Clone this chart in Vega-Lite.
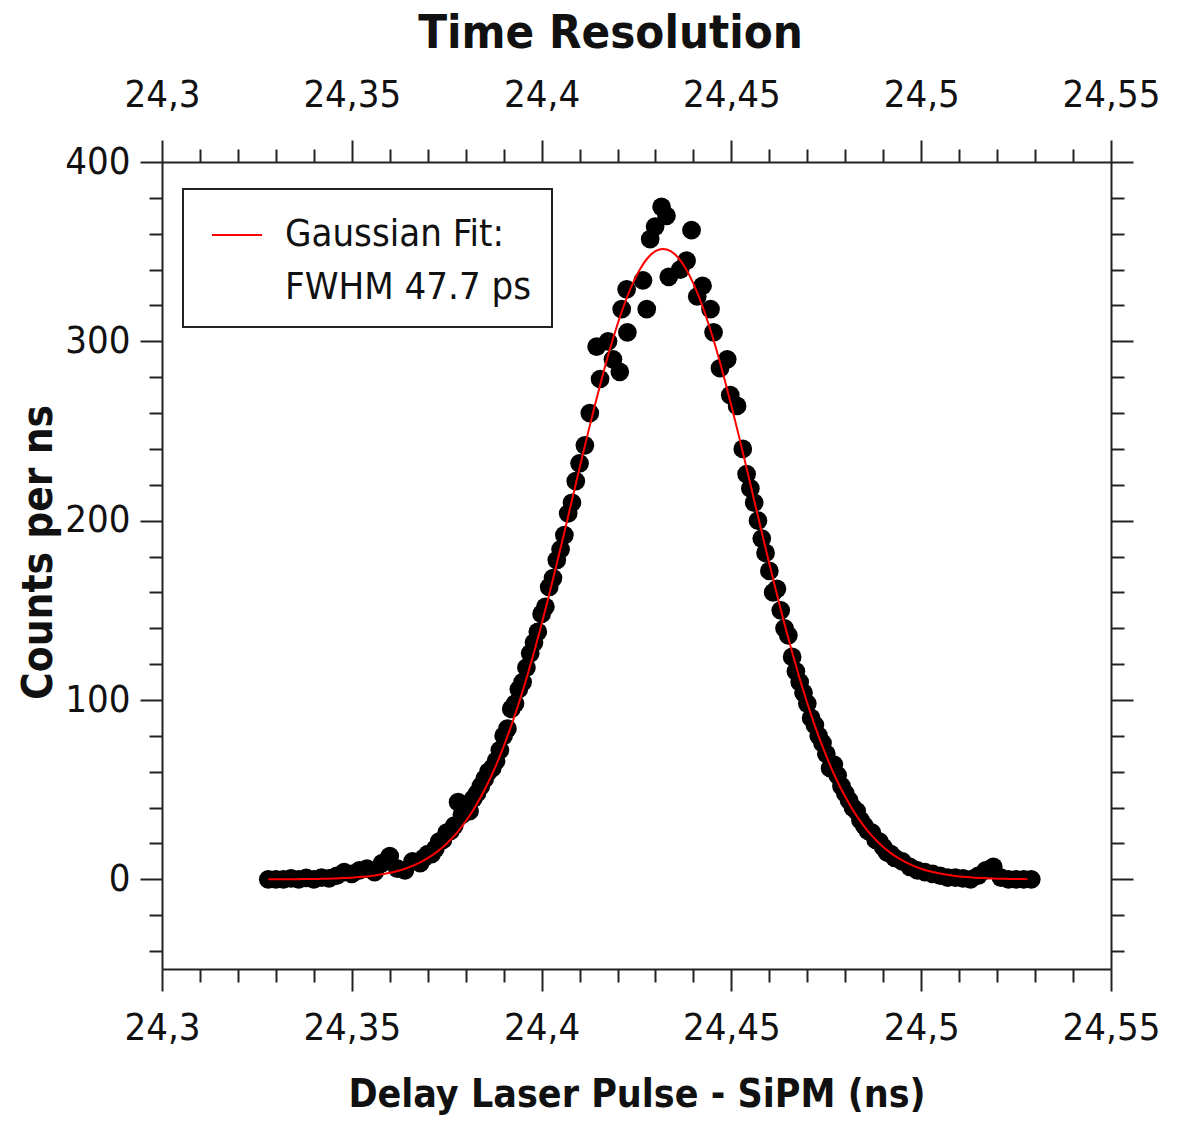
{
  "$schema": "https://vega.github.io/schema/vega-lite/v6.json",
  "width": 949,
  "height": 807,
  "autosize": {"type": "none"},
  "padding": {"left": 162, "top": 162, "right": 70, "bottom": 153},
  "background": "white",
  "title": {
    "text": "Time Resolution",
    "font": "DejaVu Sans Condensed, DejaVu Sans",
    "fontSize": 47,
    "fontWeight": "bold",
    "color": "#111111",
    "anchor": "middle",
    "dx": -26,
    "offset": 18
  },
  "datasets": {
    "counts": [
      {"t": 24.328, "c": 0}, {"t": 24.330, "c": 0}, {"t": 24.332, "c": 0}, {"t": 24.334, "c": 0.5},
      {"t": 24.336, "c": 0}, {"t": 24.338, "c": 0.8}, {"t": 24.340, "c": 0}, {"t": 24.342, "c": 1},
      {"t": 24.344, "c": 0.5}, {"t": 24.346, "c": 2}, {"t": 24.348, "c": 4}, {"t": 24.350, "c": 3},
      {"t": 24.352, "c": 5}, {"t": 24.354, "c": 6}, {"t": 24.356, "c": 4}, {"t": 24.358, "c": 9},
      {"t": 24.360, "c": 13}, {"t": 24.362, "c": 6}, {"t": 24.364, "c": 5}, {"t": 24.366, "c": 10},
      {"t": 24.368, "c": 9}, {"t": 24.369, "c": 12}, {"t": 24.370, "c": 14}, {"t": 24.371, "c": 14},
      {"t": 24.372, "c": 17}, {"t": 24.373, "c": 21}, {"t": 24.374, "c": 22}, {"t": 24.375, "c": 26},
      {"t": 24.376, "c": 27}, {"t": 24.377, "c": 30}, {"t": 24.378, "c": 43}, {"t": 24.379, "c": 36},
      {"t": 24.380, "c": 40}, {"t": 24.381, "c": 38}, {"t": 24.382, "c": 45}, {"t": 24.383, "c": 48},
      {"t": 24.384, "c": 52}, {"t": 24.385, "c": 56}, {"t": 24.386, "c": 60}, {"t": 24.387, "c": 62},
      {"t": 24.388, "c": 66}, {"t": 24.389, "c": 72}, {"t": 24.390, "c": 80}, {"t": 24.391, "c": 84},
      {"t": 24.392, "c": 95}, {"t": 24.393, "c": 98}, {"t": 24.394, "c": 106}, {"t": 24.395, "c": 110},
      {"t": 24.396, "c": 118}, {"t": 24.397, "c": 126}, {"t": 24.398, "c": 132}, {"t": 24.399, "c": 138},
      {"t": 24.400, "c": 148}, {"t": 24.401, "c": 152}, {"t": 24.402, "c": 163}, {"t": 24.403, "c": 168},
      {"t": 24.404, "c": 178}, {"t": 24.405, "c": 184}, {"t": 24.406, "c": 192}, {"t": 24.407, "c": 204},
      {"t": 24.408, "c": 210}, {"t": 24.409, "c": 222},
      {"t": 24.4100, "c": 232}, {"t": 24.4114, "c": 242}, {"t": 24.4127, "c": 260},
      {"t": 24.4145, "c": 297}, {"t": 24.4154, "c": 279}, {"t": 24.4175, "c": 300}, {"t": 24.4188, "c": 290},
      {"t": 24.4206, "c": 283}, {"t": 24.4211, "c": 318}, {"t": 24.4224, "c": 329}, {"t": 24.4226, "c": 305},
      {"t": 24.4267, "c": 334}, {"t": 24.4277, "c": 318}, {"t": 24.4286, "c": 357}, {"t": 24.4299, "c": 364},
      {"t": 24.4316, "c": 375}, {"t": 24.4329, "c": 370}, {"t": 24.4335, "c": 336}, {"t": 24.4365, "c": 340},
      {"t": 24.4382, "c": 345}, {"t": 24.4395, "c": 362}, {"t": 24.4410, "c": 325}, {"t": 24.4424, "c": 331},
      {"t": 24.4445, "c": 318}, {"t": 24.4453, "c": 305}, {"t": 24.4470, "c": 285}, {"t": 24.4489, "c": 290},
      {"t": 24.4497, "c": 270}, {"t": 24.4515, "c": 264}, {"t": 24.4530, "c": 240},
      {"t": 24.454, "c": 226}, {"t": 24.455, "c": 218}, {"t": 24.456, "c": 210},
      {"t": 24.457, "c": 200}, {"t": 24.458, "c": 190}, {"t": 24.459, "c": 182}, {"t": 24.460, "c": 172},
      {"t": 24.461, "c": 160}, {"t": 24.462, "c": 162}, {"t": 24.463, "c": 150}, {"t": 24.464, "c": 140},
      {"t": 24.465, "c": 136}, {"t": 24.466, "c": 124}, {"t": 24.467, "c": 116}, {"t": 24.468, "c": 110},
      {"t": 24.469, "c": 104}, {"t": 24.470, "c": 98}, {"t": 24.471, "c": 90}, {"t": 24.472, "c": 86},
      {"t": 24.473, "c": 80}, {"t": 24.474, "c": 76}, {"t": 24.475, "c": 70}, {"t": 24.476, "c": 62},
      {"t": 24.477, "c": 64}, {"t": 24.478, "c": 58}, {"t": 24.479, "c": 52}, {"t": 24.480, "c": 48},
      {"t": 24.481, "c": 44}, {"t": 24.482, "c": 40}, {"t": 24.483, "c": 38}, {"t": 24.484, "c": 33},
      {"t": 24.485, "c": 30}, {"t": 24.486, "c": 27}, {"t": 24.487, "c": 26}, {"t": 24.488, "c": 22},
      {"t": 24.489, "c": 21}, {"t": 24.490, "c": 18}, {"t": 24.491, "c": 15}, {"t": 24.492, "c": 14},
      {"t": 24.493, "c": 12}, {"t": 24.495, "c": 10},
      {"t": 24.497, "c": 7}, {"t": 24.499, "c": 5}, {"t": 24.501, "c": 4}, {"t": 24.503, "c": 3},
      {"t": 24.505, "c": 2}, {"t": 24.507, "c": 1}, {"t": 24.509, "c": 1}, {"t": 24.511, "c": 0.5},
      {"t": 24.513, "c": 0}, {"t": 24.515, "c": 2}, {"t": 24.517, "c": 5}, {"t": 24.519, "c": 7},
      {"t": 24.521, "c": 1}, {"t": 24.523, "c": 0}, {"t": 24.525, "c": 0}, {"t": 24.527, "c": 0},
      {"t": 24.529, "c": 0}
    ],
    "fit": [
      {"t": 24.328, "c": 0.02}, {"t": 24.330, "c": 0.03}, {"t": 24.332, "c": 0.05}, {"t": 24.334, "c": 0.07},
      {"t": 24.336, "c": 0.10}, {"t": 24.338, "c": 0.14}, {"t": 24.340, "c": 0.20}, {"t": 24.342, "c": 0.27},
      {"t": 24.344, "c": 0.38}, {"t": 24.346, "c": 0.51}, {"t": 24.348, "c": 0.69}, {"t": 24.350, "c": 0.93},
      {"t": 24.352, "c": 1.24}, {"t": 24.354, "c": 1.64}, {"t": 24.356, "c": 2.15}, {"t": 24.358, "c": 2.80},
      {"t": 24.360, "c": 3.62}, {"t": 24.362, "c": 4.65}, {"t": 24.364, "c": 5.93}, {"t": 24.366, "c": 7.51},
      {"t": 24.368, "c": 9.45}, {"t": 24.370, "c": 11.8}, {"t": 24.372, "c": 14.6}, {"t": 24.374, "c": 18.0},
      {"t": 24.376, "c": 22.1}, {"t": 24.378, "c": 26.8}, {"t": 24.380, "c": 32.3}, {"t": 24.382, "c": 38.7},
      {"t": 24.384, "c": 46.0}, {"t": 24.386, "c": 54.3}, {"t": 24.388, "c": 63.6}, {"t": 24.390, "c": 74.1},
      {"t": 24.392, "c": 85.6}, {"t": 24.394, "c": 98.2}, {"t": 24.396, "c": 111.9}, {"t": 24.398, "c": 126.6},
      {"t": 24.400, "c": 142.3}, {"t": 24.402, "c": 158.8}, {"t": 24.404, "c": 176.0}, {"t": 24.406, "c": 193.6},
      {"t": 24.408, "c": 211.4}, {"t": 24.410, "c": 229.3}, {"t": 24.412, "c": 247.0}, {"t": 24.414, "c": 264.1},
      {"t": 24.416, "c": 280.4}, {"t": 24.418, "c": 295.7}, {"t": 24.420, "c": 309.5}, {"t": 24.422, "c": 321.8},
      {"t": 24.424, "c": 332.2}, {"t": 24.426, "c": 340.5}, {"t": 24.428, "c": 346.6}, {"t": 24.430, "c": 350.3},
      {"t": 24.432, "c": 351.5}, {"t": 24.434, "c": 350.3}, {"t": 24.436, "c": 346.6}, {"t": 24.438, "c": 340.5},
      {"t": 24.440, "c": 332.2}, {"t": 24.442, "c": 321.8}, {"t": 24.444, "c": 309.5}, {"t": 24.446, "c": 295.7},
      {"t": 24.448, "c": 280.4}, {"t": 24.450, "c": 264.1}, {"t": 24.452, "c": 247.0}, {"t": 24.454, "c": 229.3},
      {"t": 24.456, "c": 211.4}, {"t": 24.458, "c": 193.6}, {"t": 24.460, "c": 176.0}, {"t": 24.462, "c": 158.8},
      {"t": 24.464, "c": 142.3}, {"t": 24.466, "c": 126.6}, {"t": 24.468, "c": 111.9}, {"t": 24.470, "c": 98.2},
      {"t": 24.472, "c": 85.6}, {"t": 24.474, "c": 74.1}, {"t": 24.476, "c": 63.6}, {"t": 24.478, "c": 54.3},
      {"t": 24.480, "c": 46.0}, {"t": 24.482, "c": 38.7}, {"t": 24.484, "c": 32.3}, {"t": 24.486, "c": 26.8},
      {"t": 24.488, "c": 22.1}, {"t": 24.490, "c": 18.0}, {"t": 24.492, "c": 14.6}, {"t": 24.494, "c": 11.8},
      {"t": 24.496, "c": 9.45}, {"t": 24.498, "c": 7.51}, {"t": 24.500, "c": 5.93}, {"t": 24.502, "c": 4.65},
      {"t": 24.504, "c": 3.62}, {"t": 24.506, "c": 2.80}, {"t": 24.508, "c": 2.15}, {"t": 24.510, "c": 1.64},
      {"t": 24.512, "c": 1.24}, {"t": 24.514, "c": 0.93}, {"t": 24.516, "c": 0.69}, {"t": 24.518, "c": 0.51},
      {"t": 24.520, "c": 0.38}, {"t": 24.522, "c": 0.27}, {"t": 24.524, "c": 0.20}, {"t": 24.526, "c": 0.14},
      {"t": 24.528, "c": 0.10}
    ]
  },
  "layer": [
    {
      "data": {"name": "counts"},
      "mark": {"type": "circle", "size": 350, "color": "#000000", "opacity": 1},
      "encoding": {
        "x": {
          "field": "t", "type": "quantitative",
          "scale": {"domain": [24.3, 24.55], "nice": false, "zero": false},
          "axis": {
            "orient": "bottom",
            "values": [24.3, 24.31, 24.32, 24.33, 24.34, 24.35, 24.36, 24.37, 24.38, 24.39, 24.4, 24.41, 24.42, 24.43, 24.44, 24.45, 24.46, 24.47, 24.48, 24.49, 24.5, 24.51, 24.52, 24.53, 24.54, 24.55],
            "tickSize": {"condition": {"test": "abs(datum.value*20 - round(datum.value*20)) < 0.01", "value": 22}, "value": 13},
            "labelExpr": "abs(datum.value*20 - round(datum.value*20)) < 0.01 ? replace(format(datum.value, '.2~f'), '.', ',') : ''",
            "labelPadding": 18,
            "title": "Delay Laser Pulse - SiPM (ns)",
            "titleFontSize": 39,
            "titlePadding": 28
          }
        },
        "y": {
          "field": "c", "type": "quantitative",
          "scale": {"domain": [-50, 400], "nice": false, "zero": false},
          "axis": {
            "orient": "left",
            "values": [-40, -20, 0, 20, 40, 60, 80, 100, 120, 140, 160, 180, 200, 220, 240, 260, 280, 300, 320, 340, 360, 380, 400],
            "tickSize": {"condition": {"test": "datum.value % 100 === 0", "value": 22}, "value": 13},
            "labelExpr": "datum.value % 100 === 0 ? datum.label : ''",
            "labelPadding": 10,
            "title": "Counts per ns",
            "titleFontSize": 42,
            "titlePadding": 4,
            "titleY": 390
          }
        }
      }
    },
    {
      "data": {"name": "fit"},
      "mark": {"type": "line", "strokeWidth": 2, "interpolate": "monotone"},
      "encoding": {
        "x": {
          "field": "t", "type": "quantitative",
          "scale": {"domain": [24.3, 24.55], "nice": false, "zero": false},
          "axis": {
            "orient": "top",
            "values": [24.3, 24.31, 24.32, 24.33, 24.34, 24.35, 24.36, 24.37, 24.38, 24.39, 24.4, 24.41, 24.42, 24.43, 24.44, 24.45, 24.46, 24.47, 24.48, 24.49, 24.5, 24.51, 24.52, 24.53, 24.54, 24.55],
            "tickSize": {"condition": {"test": "abs(datum.value*20 - round(datum.value*20)) < 0.01", "value": 22}, "value": 13},
            "labelExpr": "abs(datum.value*20 - round(datum.value*20)) < 0.01 ? replace(format(datum.value, '.2~f'), '.', ',') : ''",
            "labelPadding": 26,
            "title": null
          }
        },
        "y": {
          "field": "c", "type": "quantitative",
          "scale": {"domain": [-50, 400], "nice": false, "zero": false},
          "axis": {
            "orient": "right",
            "values": [-40, -20, 0, 20, 40, 60, 80, 100, 120, 140, 160, 180, 200, 220, 240, 260, 280, 300, 320, 340, 360, 380, 400],
            "tickSize": {"condition": {"test": "datum.value % 100 === 0", "value": 22}, "value": 13},
            "labels": false,
            "title": null
          }
        },
        "stroke": {
          "datum": "Gaussian Fit:",
          "type": "nominal",
          "scale": {"domain": ["Gaussian Fit:", "FWHM 47.7 ps"], "range": ["#ff0000", "rgba(0,0,0,0)"]},
          "legend": {
            "orient": "none",
            "legendX": 21,
            "legendY": 27,
            "title": null,
            "symbolType": "stroke",
            "symbolSize": 2500,
            "symbolStrokeWidth": 2,
            "symbolOffset": 8,
            "labelOffset": 22,
            "rowPadding": 8,
            "padding": 20,
            "labelLimit": 600
          }
        }
      }
    }
  ],
  "resolve": {"axis": {"x": "independent", "y": "independent"}},
  "config": {
    "view": {"stroke": null},
    "axis": {
      "domainColor": "#222222",
      "domainWidth": 2,
      "tickColor": "#222222",
      "tickWidth": 2,
      "grid": false,
      "labelFont": "DejaVu Sans Condensed, DejaVu Sans",
      "labelFontSize": 38,
      "labelColor": "#111111",
      "labelOverlap": false,
      "labelFlush": false,
      "titleFont": "DejaVu Sans Condensed, DejaVu Sans",
      "titleFontWeight": "bold",
      "titleColor": "#111111"
    },
    "legend": {
      "labelFont": "DejaVu Sans Condensed, DejaVu Sans",
      "labelFontSize": 38,
      "labelColor": "#111111",
      "strokeColor": "#222222",
      "strokeWidth": 2,
      "fillColor": "#ffffff"
    }
  }
}
